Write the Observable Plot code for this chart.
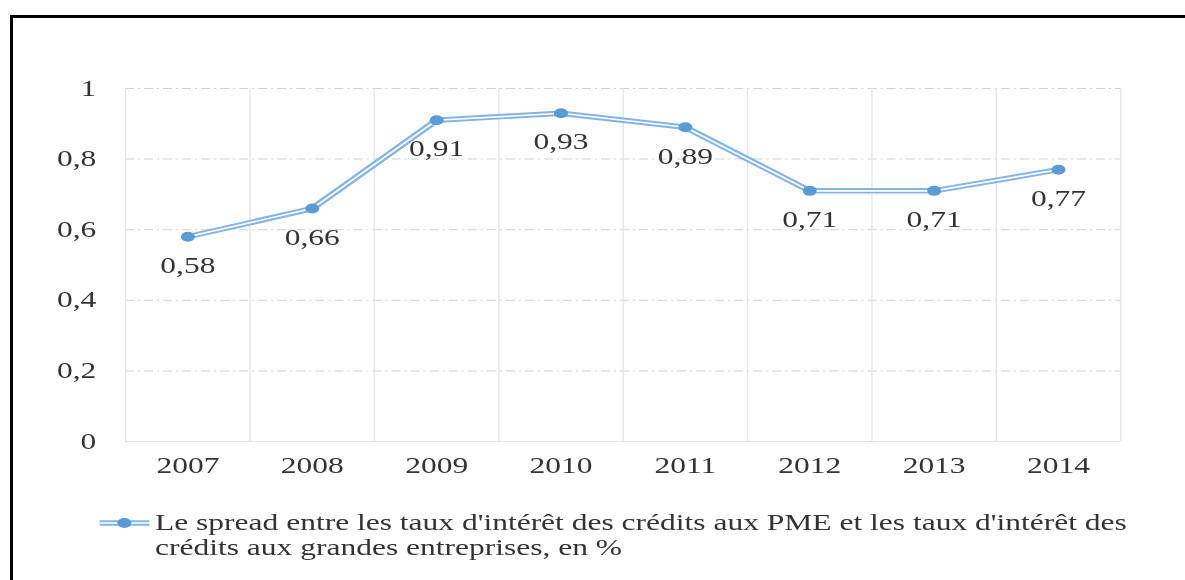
<!DOCTYPE html>
<html>
<head>
<meta charset="utf-8">
<script src="https://cdn.jsdelivr.net/npm/d3@7"></script>
<script src="https://cdn.jsdelivr.net/npm/@observablehq/plot@0.6"></script>
<style>
  html, body { margin: 0; padding: 0; background: #fff; width: 1185px; height: 580px; overflow: hidden; }
  #frame { position: absolute; left: 10px; top: 15px; width: 1200px; height: 600px;
           border-left: 3px solid #000; border-top: 3px solid #000; box-sizing: border-box; }
  #wrap { position: absolute; left: 0; top: 0; transform-origin: 0 0; }
  #legend { position: absolute; top: 510px; font-family: "Liberation Serif", serif; font-size: 22.5px;
            line-height: 25px; color: #333; display: flex; align-items: flex-start; }
  #legend .txt { white-space: nowrap; }
</style>
</head>
<body>
<div id="frame"></div>
<div id="wrap"></div>
<script>
// ---- data ----
const years = [2007, 2008, 2009, 2010, 2011, 2012, 2013, 2014];
const values = [0.58, 0.66, 0.91, 0.93, 0.89, 0.71, 0.71, 0.77];
const yTicks = [0, 0.2, 0.4, 0.6, 0.8, 1];
const seriesLabelLine1 = "Le spread entre les taux d'intérêt des crédits aux PME et les taux d'intérêt des";
const seriesLabelLine2 = "crédits aux grandes entreprises, en %";

const data = years.map((year, i) => ({year, value: values[i]}));
const boundaries = years.map(y => y - 0.5).concat([years[years.length - 1] + 0.5]);
const fmt = v => String(v).replace(".", ",");

// the reference image is horizontally stretched
const S = 1.4;
const W = 1185 / S;
const lineColor = "#85b4e0";
const dotColor = "#5b9bd5";
const textColor = "#333";

const chart = Plot.plot({
  width: W,
  height: 490,
  marginLeft: 125 / S,
  marginRight: 65 / S,
  marginTop: 88,
  marginBottom: 49,
  style: {fontFamily: "Liberation Serif, serif", fontSize: "22.5px", color: textColor, background: "transparent"},
  x: {domain: [years[0] - 0.5, years[years.length - 1] + 0.5], ticks: years, tickFormat: d => String(d),
      tickSize: 0, tickPadding: 16, label: null},
  y: {domain: [0, 1], ticks: yTicks, tickFormat: fmt, tickSize: 0, tickPadding: 21, label: null},
  marks: [
    Plot.ruleY(yTicks.filter(d => d > 0), {stroke: "#d0d0d0", strokeDasharray: "6.4,2.9,1.4,2.9"}),
    Plot.ruleX(boundaries, {y1: 0, y2: 1, stroke: "#e6e6e6"}),
    Plot.ruleY([0], {stroke: "#e3e3e3"}),
    Plot.line(data, {x: "year", y: "value", stroke: lineColor, strokeWidth: 5.5}),
    Plot.line(data, {x: "year", y: "value", stroke: "#fff", strokeWidth: 1.6}),
    Plot.dot(data, {x: "year", y: "value", r: 5, fill: dotColor, stroke: "none"}),
    Plot.text(data, {x: "year", y: "value", text: d => fmt(d.value), dy: 29, fontSize: 22.5, fill: textColor})
  ]
});

const wrap = document.getElementById("wrap");
wrap.style.width = W + "px";
wrap.style.transform = `scaleX(${S})`;
wrap.appendChild(chart);

// legend
const legend = d3.select(wrap).append("div").attr("id", "legend").style("left", (100 / S) + "px");
const sym = legend.append("svg").attr("width", 55 / S).attr("height", 25).style("flex", "none");
const sw = 50 / S;
sym.append("line").attr("x1", 0).attr("x2", sw).attr("y1", 13).attr("y2", 13)
  .attr("stroke", lineColor).attr("stroke-width", 5.5);
sym.append("line").attr("x1", 0).attr("x2", sw).attr("y1", 13).attr("y2", 13)
  .attr("stroke", "#fff").attr("stroke-width", 1.6);
sym.append("circle").attr("cx", sw / 2).attr("cy", 13).attr("r", 5).attr("fill", dotColor);
const txt = legend.append("div").attr("class", "txt");
txt.append("div").text(seriesLabelLine1);
txt.append("div").text(seriesLabelLine2);
</script>
</body>
</html>
